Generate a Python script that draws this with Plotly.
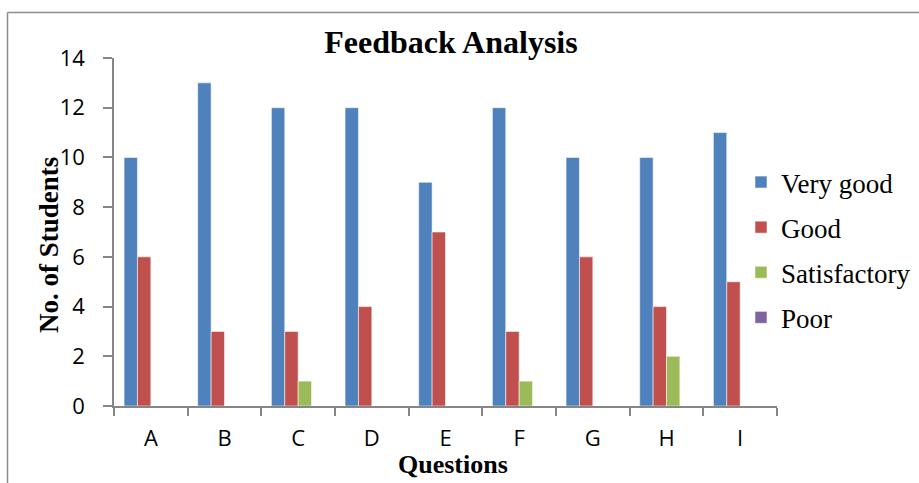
import plotly.graph_objects as go

# Questions on the x axis and the number of students per rating
questions = ["A", "B", "C", "D", "E", "F", "G", "H", "I"]
very_good = [10, 13, 12, 12, 9, 12, 10, 10, 11]
good = [6, 3, 3, 4, 7, 3, 6, 4, 5]
satisfactory = [0, 0, 1, 0, 0, 1, 0, 2, 0]
poor = [0, 0, 0, 0, 0, 0, 0, 0, 0]

y_ticks = [0, 2, 4, 6, 8, 10, 12, 14]

series = [
    ("Very good", very_good, "#4F81BD"),
    ("Good", good, "#C0504D"),
    ("Satisfactory", satisfactory, "#9BBB59"),
    ("Poor", poor, "#8064A2"),
]

W, H = 919, 483
L, R, T, B = 114, 142, 58, 77
PW, PH = W - L - R, H - T - B


def px_x(px):
    return (px - L) / PW


def px_y(py):
    return (H - B - py) / PH


fig = go.Figure()
for name, vals, color in series:
    fig.add_trace(go.Bar(
        x=questions, y=vals, name=name, legendgroup=name,
        marker=dict(color=color, line=dict(color="rgba(255,255,255,0.55)", width=1)),
        hoverinfo="skip",
    ))

serif = "Times New Roman, Liberation Serif, DejaVu Serif, serif"
sans = "Open Sans"
axis_grey = "#868686"

fig.update_layout(
    width=W, height=H,
    margin=dict(l=L, r=R, t=T, b=B, autoexpand=False),
    font=dict(family=serif, color="black"),
    paper_bgcolor="white", plot_bgcolor="white",
    barmode="group", bargap=1.5 / 5.5, bargroupgap=0,
    title=dict(text="<b>Feedback Analysis</b>", font=dict(family=serif, size=32, color="black"),
               x=451 / W, xanchor="center",
               y=1 - 42 / H, yanchor="middle"),
    legend=dict(font=dict(family=serif, size=27, color="black"),
                x=px_x(741), xanchor="left", y=px_y(158), yanchor="top",
                traceorder="grouped", tracegroupgap=7,
                bgcolor="rgba(0,0,0,0)", itemwidth=30),
    xaxis=dict(showline=True, linecolor=axis_grey, linewidth=1.5,
               ticks="outside", tickson="boundaries", ticklen=8, tickwidth=1.5, tickcolor=axis_grey,
               tickfont=dict(family=sans, size=22, color="black"), ticklabelstandoff=12,
               showgrid=False, zeroline=False, fixedrange=True),
    yaxis=dict(range=[0, 14], tickvals=y_ticks, showline=True, linecolor=axis_grey, linewidth=1.5,
               ticks="outside", ticklen=9, tickwidth=1.5, tickcolor=axis_grey,
               tickfont=dict(family=sans, size=22, color="black"), ticklabelstandoff=14,
               showgrid=False, zeroline=False, fixedrange=True),
    annotations=[
        dict(text="<b>No. of Students</b>", xref="paper", yref="paper",
             x=px_x(49), y=px_y(245), textangle=-90, showarrow=False,
             xanchor="center", yanchor="middle", font=dict(family=serif, size=27, color="black")),
        dict(text="<b>Questions</b>", xref="paper", yref="paper",
             x=px_x(453), y=px_y(464), showarrow=False,
             xanchor="center", yanchor="middle", font=dict(family=serif, size=26, color="black")),
    ],
    shapes=[
        dict(type="line", xref="paper", yref="paper", layer="below",
             x0=px_x(7.5), y0=px_y(H + 2), x1=px_x(7.5), y1=px_y(12.5),
             line=dict(color="#8c8c8c", width=1.5)),
        dict(type="line", xref="paper", yref="paper", layer="below",
             x0=px_x(7.5), y0=px_y(12.5), x1=px_x(W + 2), y1=px_y(12.5),
             line=dict(color="#8c8c8c", width=1.5)),
    ],
)

fig.write_html("out.html", config={"displayModeBar": False})
